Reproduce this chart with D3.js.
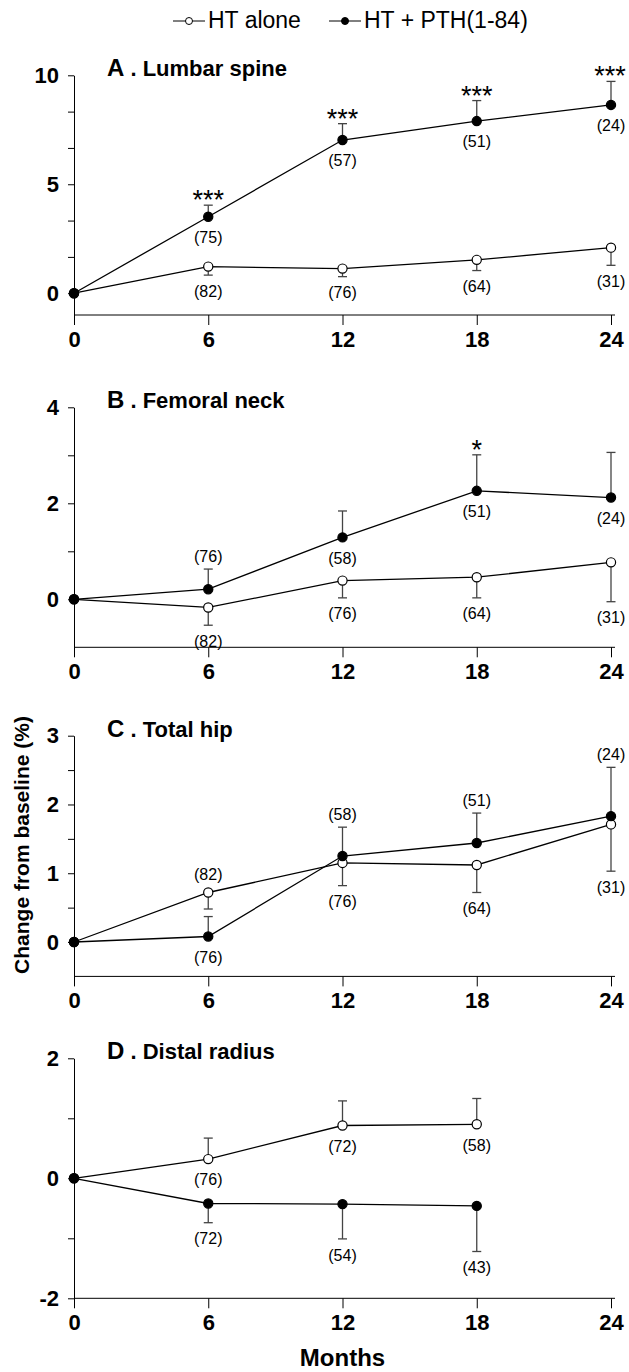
<!DOCTYPE html>
<html>
<head>
<meta charset="utf-8">
<script src="https://cdn.jsdelivr.net/npm/d3@7"></script>
<style>
  body { margin: 0; background: #fff; }
  svg text { font-family: "Liberation Sans", Arial, sans-serif; }
</style>
</head>
<body>
<div id="chart"></div>
<script>

// months on the x axis
var months = [0, 6, 12, 18, 24];
var monthTicks = [0, 6, 12, 18, 24];

// A. Lumbar spine
var lumbarHT = [0, 1.22, 1.13, 1.53, 2.09];
var lumbarHTse = [0, 0.39, 0.37, 0.49, 0.81];
var lumbarHTn = [null, 82, 76, 64, 31];
var lumbarPTH = [0, 3.51, 7.03, 7.90, 8.64];
var lumbarPTHse = [0, 0.53, 0.75, 0.94, 1.08];
var lumbarPTHn = [null, 75, 57, 51, 24];
var lumbarStars = ["", "***", "***", "***", "***"];

// B. Femoral neck
var femoralHT = [0, -0.17, 0.39, 0.46, 0.77];
var femoralHTse = [0, 0.37, 0.36, 0.43, 0.82];
var femoralHTn = [null, 82, 76, 64, 31];
var femoralPTH = [0, 0.21, 1.29, 2.26, 2.12];
var femoralPTHse = [0, 0.42, 0.55, 0.75, 0.94];
var femoralPTHn = [null, 76, 58, 51, 24];
var femoralStars = ["", "", "", "*", ""];

// C. Total hip
var hipHT = [0, 0.72, 1.15, 1.12, 1.71];
var hipHTse = [0, 0.24, 0.33, 0.40, 0.68];
var hipHTn = [null, 82, 76, 64, 31];
var hipPTH = [0, 0.08, 1.25, 1.44, 1.83];
var hipPTHse = [0, 0.29, 0.42, 0.435, 0.71];
var hipPTHn = [null, 76, 58, 51, 24];

// D. Distal radius (no 24 month data)
var radiusHT = [0, 0.32, 0.88, 0.90];
var radiusHTse = [0, 0.35, 0.41, 0.43];
var radiusHTn = [null, 76, 72, 58];
var radiusPTH = [0, -0.42, -0.43, -0.46];
var radiusPTHse = [0, 0.32, 0.58, 0.76];
var radiusPTHn = [null, 72, 54, 43];

// y axis ticks of each panel
var lumbarTicks = [0, 5, 10], lumbarMinor = [5 / 3, 10 / 3, 20 / 3, 25 / 3];
var femoralTicks = [0, 2, 4], femoralMinor = [1, 3];
var hipTicks = [0, 1, 2, 3], hipMinor = [0.5, 1.5, 2.5];
var radiusTicks = [-2, 0, 2], radiusMinor = [-1, 1];

var panels = [
  { letter: "A", name: "Lumbar spine", top: 75.3, bottom: 315, domain: [-1, 10], ticks: lumbarTicks, minor: lumbarMinor,
    series: [
      { v: lumbarHT, se: lumbarHTse, dir: -1, n: lumbarHTn, side: "bbbbb", filled: false },
      { v: lumbarPTH, se: lumbarPTHse, dir: 1, n: lumbarPTHn, side: "bbbbb", filled: true, stars: lumbarStars }
    ] },
  { letter: "B", name: "Femoral neck", top: 407.3, bottom: 647.3, domain: [-1, 4], ticks: femoralTicks, minor: femoralMinor,
    series: [
      { v: femoralHT, se: femoralHTse, dir: -1, n: femoralHTn, side: "bbbbb", filled: false },
      { v: femoralPTH, se: femoralPTHse, dir: 1, n: femoralPTHn, side: "babbb", filled: true, stars: femoralStars }
    ] },
  { letter: "C", name: "Total hip", top: 735.7, bottom: 976.4, domain: [-0.5, 3], ticks: hipTicks, minor: hipMinor,
    series: [
      { v: hipHT, se: hipHTse, dir: -1, n: hipHTn, side: "babbb", filled: false },
      { v: hipPTH, se: hipPTHse, dir: 1, n: hipPTHn, side: "bbaaa", filled: true }
    ] },
  { letter: "D", name: "Distal radius", top: 1058.3, bottom: 1298.3, domain: [-2, 2], ticks: radiusTicks, minor: radiusMinor,
    series: [
      { v: radiusHT, se: radiusHTse, dir: 1, n: radiusHTn, side: "bbbb", filled: false },
      { v: radiusPTH, se: radiusPTHse, dir: -1, n: radiusPTHn, side: "bbbb", filled: true }
    ] }
];

var width = 629, height = 1372;
var font = "'Liberation Sans', Arial, sans-serif";
var r = 4.6;

var svg = d3.select("#chart")
  .append("svg")
  .attr("width", width)
  .attr("height", height);

var x = d3.scaleLinear().domain([0, 24]).range([74, 611]);

panels.forEach(function (p) {
  var y = d3.scaleLinear().domain(p.domain).range([p.bottom, p.top]);
  var g = svg.append("g");

  // y axis with major and minor ticks
  g.append("g")
    .attr("transform", "translate(" + x(0) + ",0)")
    .call(d3.axisLeft(y).tickValues(p.ticks).tickSize(6).tickSizeOuter(0).tickPadding(9)
      .tickFormat(function (d) { return String(d); }))
    .attr("font-size", 22).attr("font-weight", "bold").attr("font-family", font);
  g.append("g")
    .attr("transform", "translate(" + x(0) + ",0)")
    .call(d3.axisLeft(y).tickValues(p.minor).tickSize(6).tickFormat(""))
    .select(".domain").remove();

  // x axis
  var xa = g.append("g")
    .attr("transform", "translate(0," + p.bottom + ")")
    .call(d3.axisBottom(x).tickValues(monthTicks).tickSize(10).tickSizeOuter(0).tickPadding(6))
    .attr("font-size", 22).attr("font-weight", "bold").attr("font-family", font);
  xa.select(".domain").remove();
  xa.append("line")
    .attr("x1", x(0)).attr("x2", x(24) + 4)
    .attr("stroke", "#000");

  // panel title
  var t = g.append("text")
    .attr("x", 107)
    .attr("y", p.top + 1)
    .attr("font-weight", "bold");
  t.append("tspan").attr("font-size", 24).text(p.letter);
  t.append("tspan").attr("font-size", 22).text(" . " + p.name);

  var line = d3.line()
    .x(function (d, i) { return x(months[i]); })
    .y(function (d) { return y(d); });

  p.series.forEach(function (s) {
    g.append("path")
      .datum(s.v)
      .attr("fill", "none")
      .attr("stroke", "#000")
      .attr("stroke-width", 1.3)
      .attr("d", line);
  });

  p.series.forEach(function (s) {
    s.v.forEach(function (d, i) {
      if (i == 0) return;
      var cx = x(months[i]);
      var y0 = y(d), y1 = y(d + s.dir * s.se[i]);

      // error bar on one side
      g.append("line")
        .attr("x1", cx).attr("x2", cx).attr("y1", y0).attr("y2", y1)
        .attr("stroke", "#444").attr("stroke-width", 1.3);
      g.append("line")
        .attr("x1", cx - 4.5).attr("x2", cx + 4.5).attr("y1", y1).attr("y2", y1)
        .attr("stroke", "#444").attr("stroke-width", 1.3);

      var topY = Math.min(y0 - r, y1), lowY = Math.max(y0 + r, y1);

      // number of subjects
      if (s.n[i] != null) {
        var ly = s.side[i] == "a" ? topY - 13 : lowY + 16;
        g.append("text")
          .attr("x", cx).attr("y", ly).attr("dy", "0.35em")
          .attr("text-anchor", "middle")
          .attr("font-size", 16)
          .text("(" + s.n[i] + ")");
      }

      // significance stars
      if (s.stars && s.stars[i]) {
        g.append("text")
          .attr("x", Math.min(cx, 610)).attr("y", topY + 4)
          .attr("text-anchor", "middle")
          .attr("font-size", 27)
          .text(s.stars[i]);
      }
    });
  });

  // the points on top
  p.series.forEach(function (s) {
    g.selectAll(null)
      .data(s.v)
      .enter()
      .append("circle")
      .attr("cx", function (d, i) { return x(months[i]); })
      .attr("cy", function (d) { return y(d); })
      .attr("r", r)
      .attr("fill", s.filled ? "#000" : "#fff")
      .attr("stroke", "#000")
      .attr("stroke-width", 1.2);
  });
});

// legend
var legendItems = [
  { label: "HT alone", filled: false, x: 173 },
  { label: "HT + PTH(1-84)", filled: true, x: 329 }
];
legendItems.forEach(function (d) {
  svg.append("line")
    .attr("x1", d.x).attr("x2", d.x + 32).attr("y1", 21).attr("y2", 21)
    .attr("stroke", "#000").attr("stroke-width", 1);
  svg.append("circle")
    .attr("cx", d.x + 16).attr("cy", 21).attr("r", 3.5)
    .attr("fill", d.filled ? "#000" : "#fff")
    .attr("stroke", "#000");
  svg.append("text")
    .attr("x", d.x + 35).attr("y", 28)
    .attr("font-size", 23)
    .text(d.label);
});

// axis titles
svg.append("text")
  .attr("transform", "translate(22,845) rotate(-90)")
  .attr("text-anchor", "middle")
  .attr("dy", "0.35em")
  .attr("font-size", 21)
  .attr("font-weight", "bold")
  .text("Change from baseline (%)");

svg.append("text")
  .attr("x", x(12))
  .attr("y", 1366)
  .attr("text-anchor", "middle")
  .attr("font-size", 24)
  .attr("font-weight", "bold")
  .text("Months");

</script>
</body>
</html>
